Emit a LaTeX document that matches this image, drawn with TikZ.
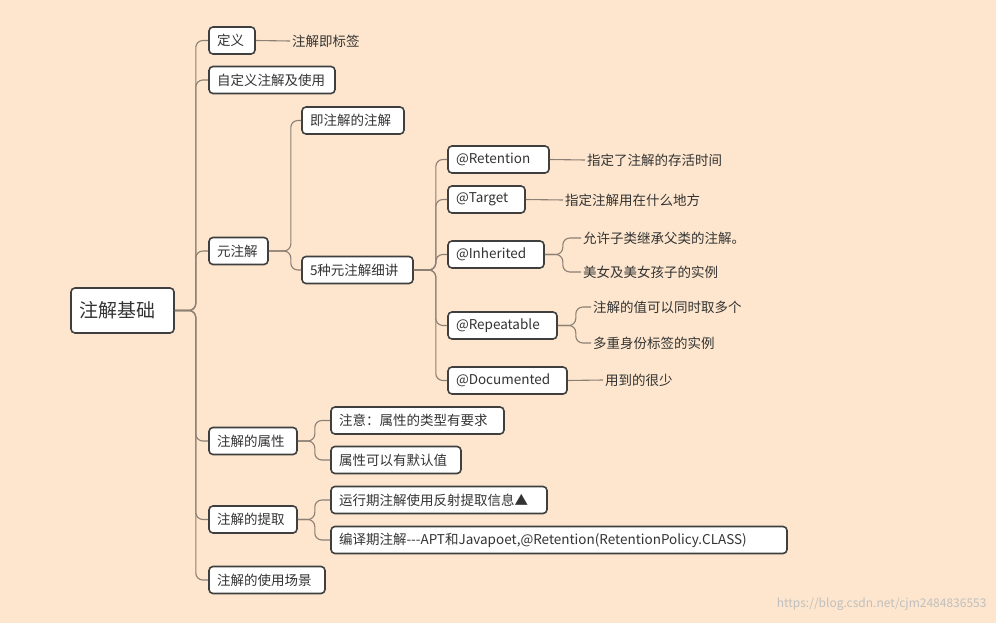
\documentclass[tikz,border=0pt]{standalone}
\usepackage{fontspec}
\setmainfont{Noto Sans CJK SC}
\definecolor{bg}{HTML}{FDE6CD}
\definecolor{ln}{HTML}{8C7F73}
\definecolor{bx}{HTML}{3F3F3F}
\begin{document}
\begin{tikzpicture}[x=1pt,y=-1pt,
 box/.style={draw=bx,line width=1.6pt,fill=white,rounded corners=4pt,minimum height=27pt,inner xsep=8pt,text width=#1pt,align=left,font=\fontsize{13.5}{15}\selectfont,text=black!80},
 leaf/.style={anchor=west,inner sep=2pt,font=\fontsize{13.5}{15}\selectfont,text=black!80},
 conn/.style={draw=ln,line width=1.1pt,rounded corners=7pt}]
\fill[bg] (0,0) rectangle (996,623);
\useasboundingbox (0,0) rectangle (996,623);
\node[box=87,minimum height=45pt,font=\fontsize{19}{22}\selectfont,inner xsep=8pt] (root) at (122.5,310.5) {注解基础};
\node[box=30] (dy) at (232,40.5) {定义};
\node[leaf] (dyl) at (290,41) {注解即标签};
\node[box=110] (zdy) at (272,80) {自定义注解及使用};
\node[box=43] (yzj) at (238.5,251) {元注解};
\node[box=86] (jzj) at (353,120.5) {即注解的注解};
\node[box=95] (wz) at (357.5,270) {5种元注解细讲};
\node[box=85] (ret) at (498.5,159.5) {@Retention};
\node[leaf] (retl) at (585,160) {指定了注解的存活时间};
\node[box=61] (tar) at (486.5,199.5) {@Target};
\node[leaf] (tarl) at (563,200) {指定注解用在什么地方};
\node[box=80] (inh) at (496,254.5) {@Inherited};
\node[leaf] (inh1) at (581,238) {允许子类继承父类的注解。};
\node[leaf] (inh2) at (581,272) {美女及美女孩子的实例};
\node[box=93] (rep) at (502.5,325.5) {@Repeatable};
\node[leaf] (rep1) at (591,307) {注解的值可以同时取多个};
\node[leaf] (rep2) at (591,343) {多重身份标签的实例};
\node[box=103] (doc) at (507.5,380.5) {@Documented};
\node[leaf] (docl) at (603,380) {用到的很少};
\node[box=72] (sx) at (253,441) {注解的属性};
\node[box=157] (sx1) at (417.5,420.5) {注意：属性的类型有要求};
\node[box=114] (sx2) at (396,460) {属性可以有默认值};
\node[box=72] (tq) at (253,519.5) {注解的提取};
\node[box=200] (tq1) at (439,500) {运行期注解使用反射提取信息▲};
\node[box=440] (tq2) at (559,540) {编译期注解{-}{-}{-}APT和Javapoet,@Retention(RetentionPolicy.CLASS)};
\node[box=100] (cj) at (267,580) {注解的使用场景};
\node[anchor=east,font=\fontsize{12}{14}\selectfont,text=black!25] (wm) at (990,604) {https://blog.csdn.net/cjm2484836553};
\foreach \c in {dy,zdy,yzj,sx,tq,cj} \draw[conn] (root.east) -- ++(21,0) |- (\c.west);
\foreach \c in {jzj,wz} \draw[conn] (yzj.east) -- ++(22,0) |- (\c.west);
\foreach \c in {ret,tar,inh,rep,doc} \draw[conn] (wz.east) -- ++(22,0) |- (\c.west);
\foreach \c in {sx1,sx2} \draw[conn] (sx.east) -- ++(17,0) |- (\c.west);
\foreach \c in {tq1,tq2} \draw[conn] (tq.east) -- ++(17,0) |- (\c.west);
\draw[conn] (dy.east) -- (dyl.west);
\draw[conn] (ret.east) -- (retl.west);
\draw[conn] (tar.east) -- (tarl.west);
\draw[conn] (doc.east) -- (docl.west);
\foreach \c in {inh1,inh2} \draw[conn] (inh.east) -- ++(18,0) |- (\c.west);
\foreach \c in {rep1,rep2} \draw[conn] (rep.east) -- ++(18,0) |- (\c.west);
\end{tikzpicture}
\end{document}
